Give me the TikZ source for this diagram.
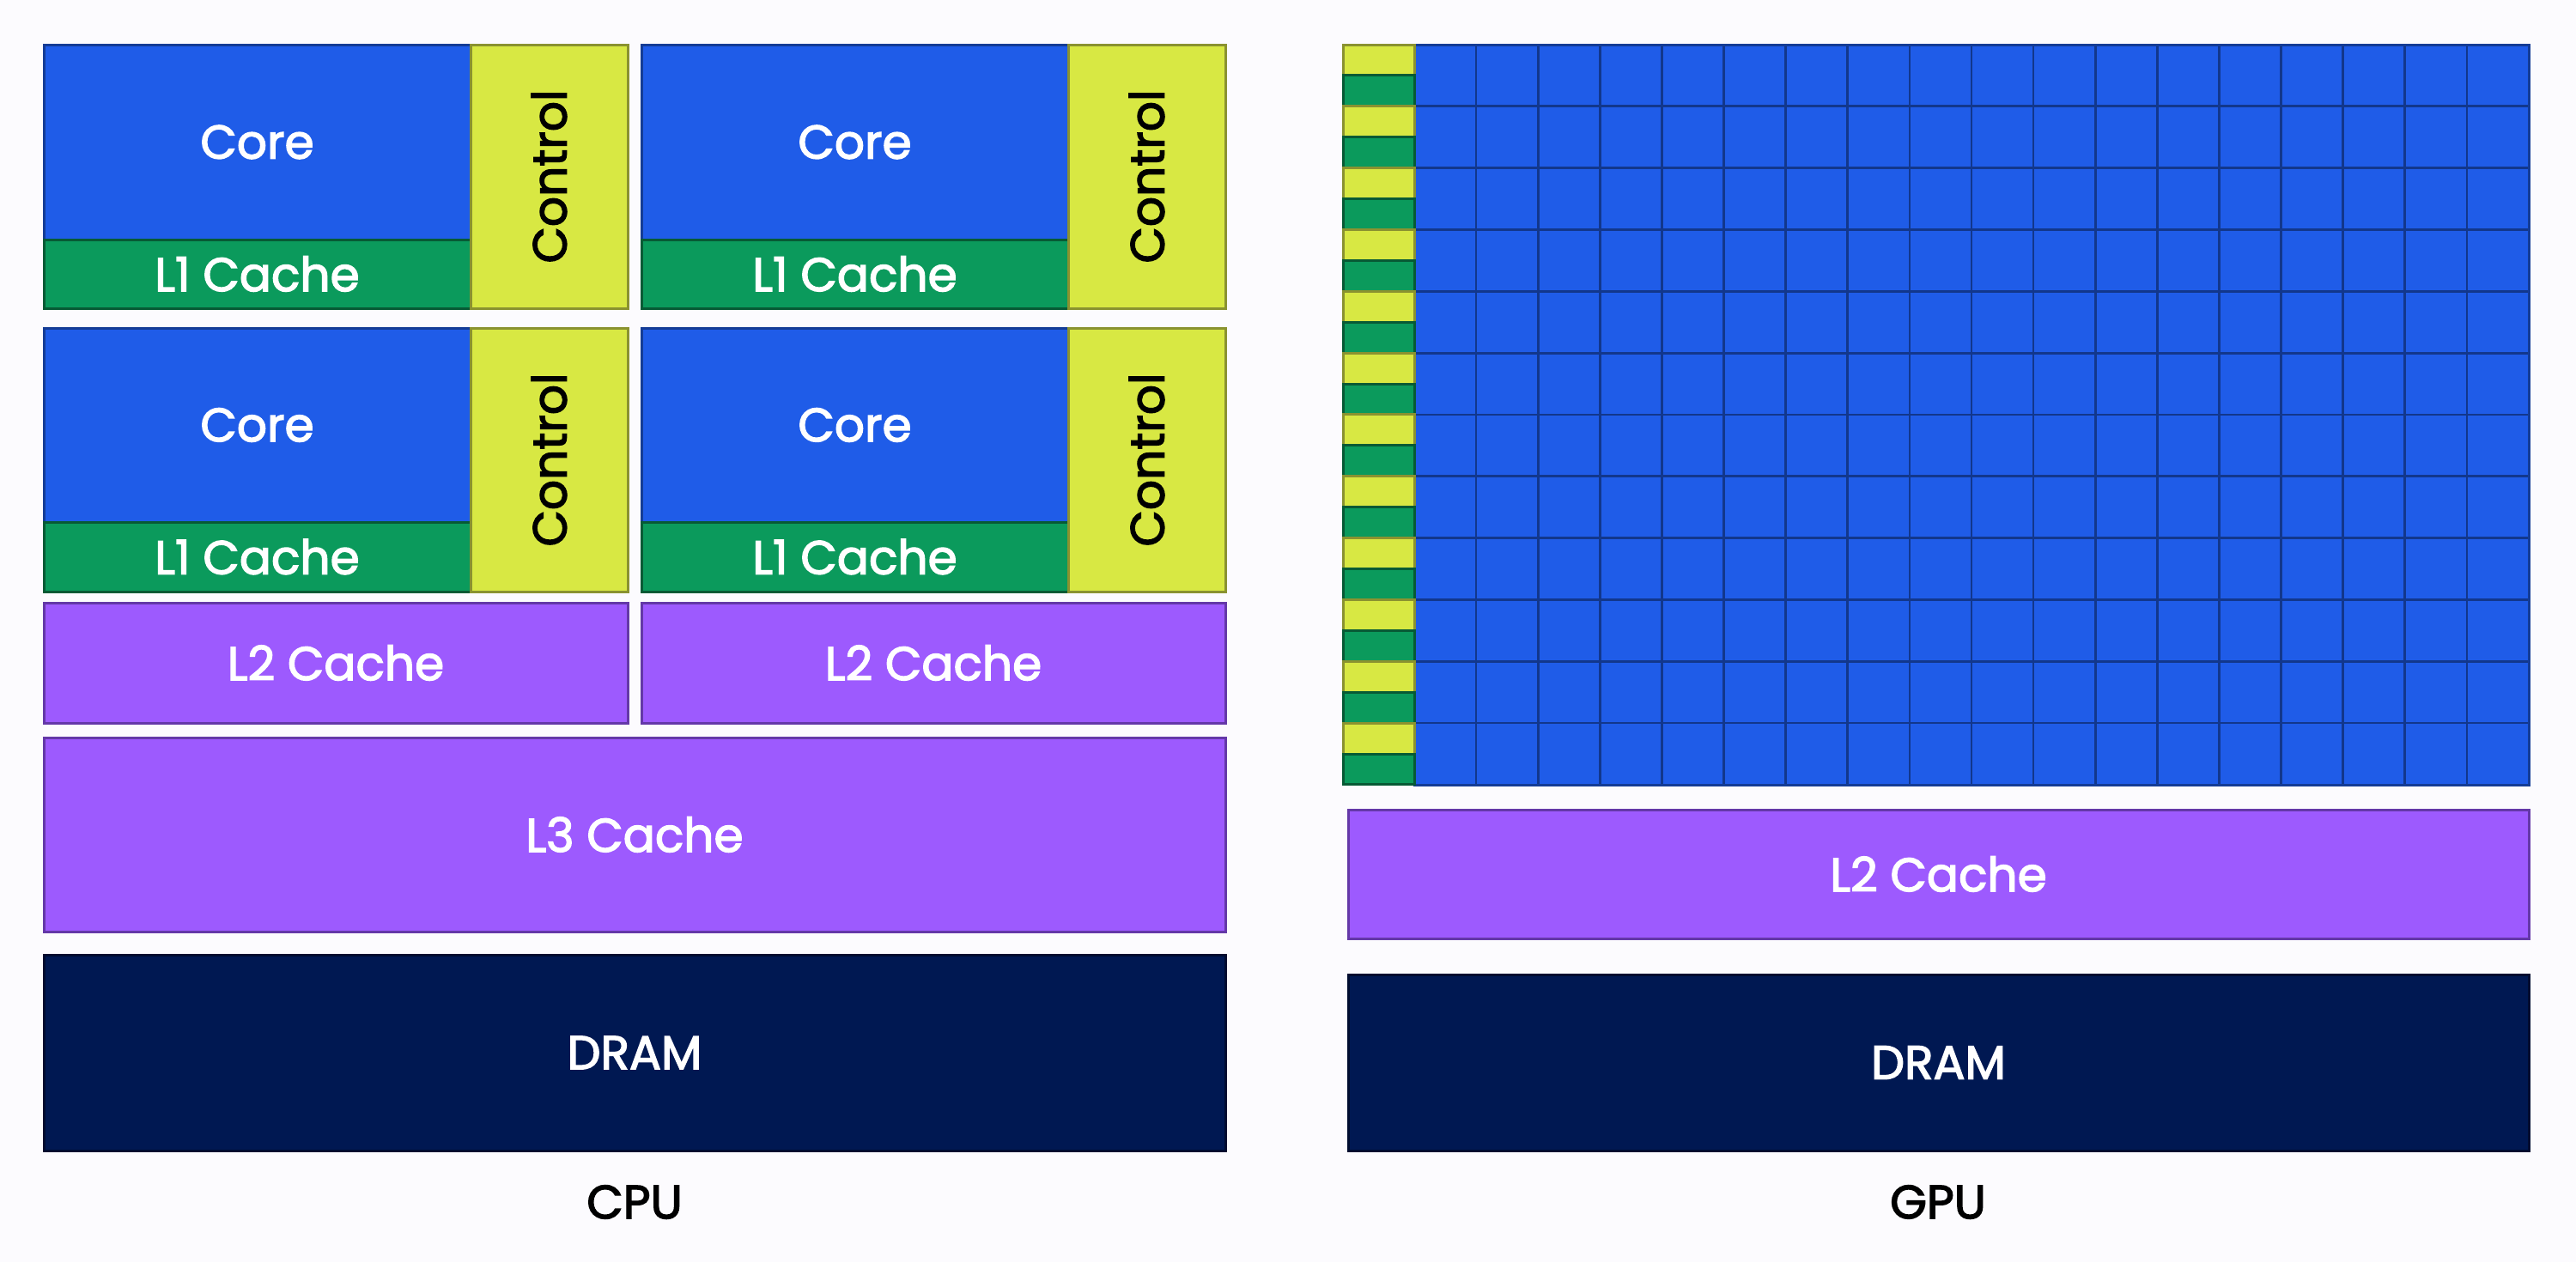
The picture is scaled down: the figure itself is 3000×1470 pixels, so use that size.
\documentclass[tikz,border=0pt]{standalone}
\usepackage{fontspec}
\newfontfamily\lbl{Poppins}[RawFeature={embolden=2.5}]
\definecolor{bg}{HTML}{FCFBFE}
\definecolor{coreblue}{HTML}{1F5CE8}
\definecolor{coreline}{HTML}{143C96}
\definecolor{gridline}{HTML}{12378C}
\definecolor{lgreen}{HTML}{0B9A5C}
\definecolor{lgreenline}{HTML}{075A35}
\definecolor{ctrlyel}{HTML}{D8E843}
\definecolor{ctrlline}{HTML}{8A9230}
\definecolor{cachepur}{HTML}{9D5AFE}
\definecolor{cacheline}{HTML}{6438A8}
\definecolor{dramnavy}{HTML}{001852}
\definecolor{dramline}{HTML}{000C30}
\newcommand\blk[7]{\node[#6, minimum width={(#4-#2)*1pt}, minimum height={(#5-#3)*1pt}] (#1) at ({(#2+#4)/2},{(#3+#5)/2}) {#7};}
\newcommand\ctl[5]{\node[ctrlbox, rotate=90, minimum width={(#5-#3)*1pt}, minimum height={(#4-#2)*1pt}] (#1) at ({(#2+#4)/2},{(#3+#5)/2}) {Control};}
\begin{document}
\begin{tikzpicture}[x=1pt,y=-1pt,
  txt/.style={font=\lbl\fontsize{55}{66}\selectfont},
  box/.style={draw, line width=3pt, inner sep=0pt, outer sep=0pt, txt, text=white},
  corebox/.style={box, fill=coreblue, draw=coreline},
  lonebox/.style={box, fill=lgreen, draw=lgreenline},
  ctrlbox/.style={box, fill=ctrlyel, draw=ctrlline, text=black},
  cachebox/.style={box, fill=cachepur, draw=cacheline},
  drambox/.style={box, fill=dramnavy, draw=dramline},
  gline/.style={draw=gridline, line width=2.7pt},
  tinyyel/.style={fill=ctrlyel, draw=ctrlline, line width=3pt},
  tinygrn/.style={fill=lgreen, draw=lgreenline, line width=3pt}]
\useasboundingbox[fill=bg] (0,0) rectangle (3000,1470);
% ---------------- CPU ----------------
\blk{coreA}{51}{52}{548}{279}{corebox}{Core}
\blk{lA}{51}{279}{548}{359}{lonebox}{L1 Cache}
\ctl{ctlA}{548}{52}{731}{359}
\blk{coreB}{747}{52}{1244}{279}{corebox}{Core}
\blk{lB}{747}{279}{1244}{359}{lonebox}{L1 Cache}
\ctl{ctlB}{1244}{52}{1427}{359}
\blk{coreC}{51}{382}{548}{608}{corebox}{Core}
\blk{lC}{51}{608}{548}{689}{lonebox}{L1 Cache}
\ctl{ctlC}{548}{382}{731}{689}
\blk{coreD}{747}{382}{1244}{608}{corebox}{Core}
\blk{lD}{747}{608}{1244}{689}{lonebox}{L1 Cache}
\ctl{ctlD}{1244}{382}{1427}{689}
\blk{ltwoA}{51}{702}{731}{842}{cachebox}{L2 Cache}
\blk{ltwoB}{747}{702}{1427}{842}{cachebox}{L2 Cache}
\blk{lthree}{51}{859}{1427}{1085}{cachebox}{L3 Cache}
\blk{dramcpu}{51}{1112}{1427}{1340}{drambox}{DRAM}
\node[txt, text=black] (cpu) at (739,1400) {CPU};
% ---------------- GPU ----------------
\fill[coreblue] (1647,52) rectangle (2945,914);
\foreach \j in {1,...,17} \draw[gline] ({1647+\j*72.11},52) -- ++(0,862);
\foreach \i in {1,...,11} \draw[gline] (1647,{52+\i*71.83}) -- (2945,{52+\i*71.83});
\draw[draw=coreline, line width=3pt] (1647,52) rectangle (2945,914);
\foreach \i in {0,...,11} {
  \path[tinyyel] (1564.5,{52+\i*71.83}) rectangle (1647,{52+\i*71.83+35.9});
  \path[tinygrn] (1564.5,{52+\i*71.83+35.9}) rectangle (1647,{52+(\i+1)*71.83});
}
\blk{ltwogpu}{1570}{943}{2945}{1093}{cachebox}{L2 Cache}
\blk{dramgpu}{1570}{1135}{2945}{1340}{drambox}{DRAM}
\node[txt, text=black] (gpu) at (2257,1400) {GPU};
\end{tikzpicture}
\end{document}
